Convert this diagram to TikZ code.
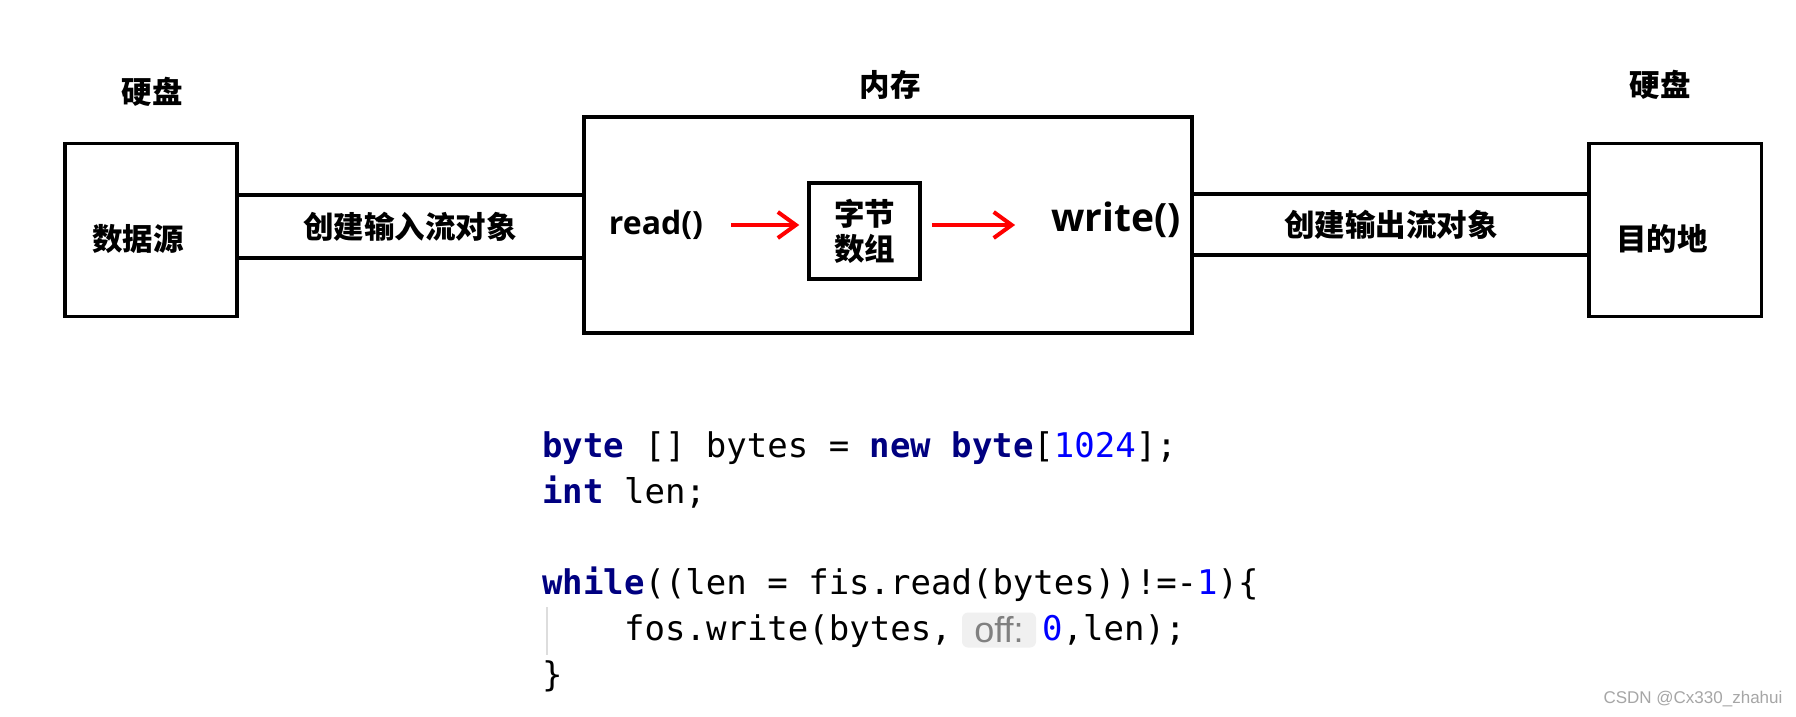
\documentclass[tikz,border=0pt]{standalone}
\usepackage{fontspec}
\usetikzlibrary{arrows.meta}
\newfontfamily\cjk{Noto Sans CJK SC}
\newfontfamily\latb{Open Sans}
\newfontfamily\codef{DejaVu Sans Mono}
\newfontfamily\hintf{Liberation Sans}
\definecolor{kwcol}{HTML}{000080}
\definecolor{numcol}{HTML}{0000FF}
\definecolor{hintbg}{HTML}{F0F0F0}
\definecolor{hintfg}{HTML}{808080}
\definecolor{guidecol}{HTML}{DDDDDD}
\definecolor{wmcol}{HTML}{A6A6A6}
\newcommand{\ckw}[1]{{\bfseries\color{kwcol}#1}}
\newcommand{\cnum}[1]{{\color{numcol}#1}}
\frenchspacing
\begin{document}
\begin{tikzpicture}[x=1pt,y=-1pt,
  box/.style={draw, line width=3.5pt, inner sep=0pt},
  lbl/.style={font=\cjk\bfseries\fontsize{30.5}{35}\selectfont, inner sep=0pt, align=center},
  latlbl/.style={font=\latb\bfseries\fontsize{32}{38}\selectfont, inner sep=0pt},
  chan/.style={line width=3.5pt},
  redarr/.style={draw=red, line width=4pt, -{Straight Barb[length=18pt,width=26pt]}},
  code/.style={font=\codef\fontsize{34}{46}\selectfont, inner sep=0pt, anchor=base west}]
\path[use as bounding box, fill=white] (0,0) rectangle (1796,717);

% top labels
\node[lbl] (hd1) at (152,92) {硬盘};
\node[lbl] (mm) at (890,85) {内存};
\node[lbl] (hd2) at (1660,85) {硬盘};

% boxes
\node[box, minimum width=172pt, minimum height=173pt] (src) at (151,230) {};
\node[lbl] (srct) at (138,239) {数据源};
\node[box, minimum width=608pt, minimum height=216pt] (mem) at (888,225) {};
\node[box, lbl, minimum width=111pt, minimum height=96pt] (bb) at (864.5,231) {字节\\数组};
\node[box, minimum width=172.5pt, minimum height=173pt] (dst) at (1675,230) {};
\node[lbl] (dstt) at (1662,239) {目的地};

% channels
\draw[chan] (src.east |- 0,195) -- (mem.west |- 0,195);
\draw[chan] (src.east |- 0,258) -- (mem.west |- 0,258);
\node[lbl] (inl) at (410,227) {创建输入流对象};
\draw[chan] (mem.east |- 0,194) -- (dst.west |- 0,194);
\draw[chan] (mem.east |- 0,255) -- (dst.west |- 0,255);
\node[lbl] (outl) at (1391,225) {创建输出流对象};

% read / write
\node[latlbl] (rd) at (656,225) {read()};
\node[latlbl, font=\latb\bfseries\fontsize{39}{46}\selectfont] (wr) at (1116,220) {write()};
\draw[redarr, shorten <=28pt, shorten >=8pt] (rd.east) -- (bb.west |- rd.east);
\draw[redarr, shorten <=10pt, shorten >=36pt] (bb.east |- rd.east) -- (wr.west |- rd.east);

% code
\node[code] (c1) at (542,457) {\ckw{byte} [] bytes = \ckw{new} \ckw{byte}[\cnum{1024}];};
\node[code] (c2) at (542,503) {\ckw{int} len;};
\node[code] (c3) at (542,594) {\ckw{while}((len = fis.read(bytes))!=-\cnum{1})\{};
\node[code] (c4) at (624,640) {fos.write(bytes,};
\node[draw=none, fill=hintbg, rounded corners=6pt, minimum width=74pt, minimum height=35pt, inner sep=0pt,
      font=\hintf\fontsize{36}{40}\selectfont, text=hintfg] (hint) at (999,630) {off:};
\node[code] (c4b) at (1042,640) {\cnum{0},len);};
\node[code] (c5) at (542,686) {\}};
\draw[guidecol, line width=1.5pt] (547,607) coordinate (g1) -- (547,655) coordinate (g2);

% watermark
\node[font=\hintf\fontsize{17}{20}\selectfont, text=wmcol, inner sep=0pt] (wmk) at (1693,699) {CSDN @Cx330\_zhahui};
\end{tikzpicture}
\end{document}
